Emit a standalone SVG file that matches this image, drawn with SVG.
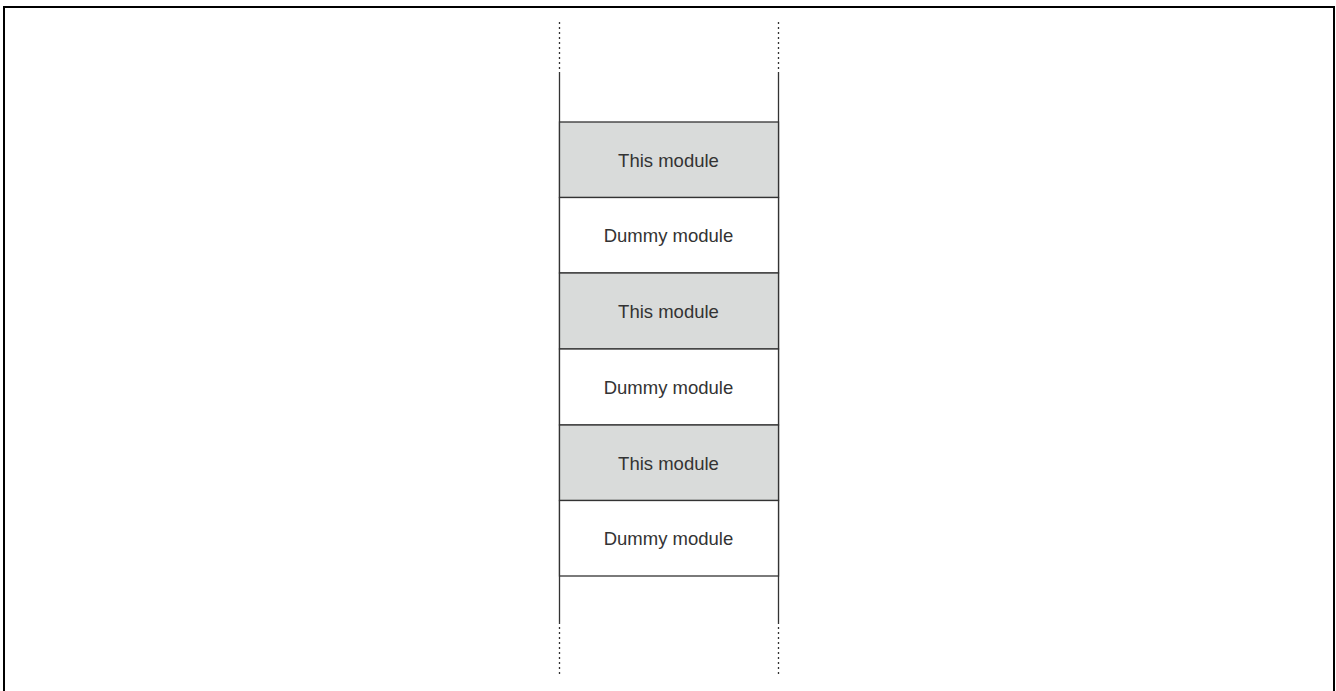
<svg xmlns="http://www.w3.org/2000/svg" width="1336" height="691" viewBox="0 0 1336 691">
<style>
.frame{stroke:#000;stroke-width:2;fill:none}
.side{stroke:#333;stroke-width:1.3;fill:none}
.dot{stroke:#333;stroke-width:1.3;stroke-dasharray:2,3;fill:none}
.gray{fill:#d9dbda;stroke:#333;stroke-width:1.3}
.white{fill:#fff;stroke:#333;stroke-width:1.3}
text{font-family:"Liberation Sans",Arial,sans-serif;font-size:18.5px;fill:#333;text-anchor:middle;dominant-baseline:central}
</style>
<rect width="1336" height="691" fill="#fff"/>
<path class="frame" d="M4,691 V7 H1334 V691"/>
<g id="rails">
<path class="dot" d="M559.5,22 V72 M778.5,22 V72 M559.5,627 V677 M778.5,627 V677"/>
<path class="side" d="M559.5,72 V624 M778.5,72 V624"/>
</g>
<g id="m1"><rect class="gray" x="559.5" y="122" width="219" height="75.5"/><text x="668.5" y="160">This module</text></g>
<g id="m2"><rect class="white" x="559.5" y="197.5" width="219" height="75.5"/><text x="668.5" y="235.5">Dummy module</text></g>
<g id="m3"><rect class="gray" x="559.5" y="273" width="219" height="76"/><text x="668.5" y="311">This module</text></g>
<g id="m4"><rect class="white" x="559.5" y="349" width="219" height="76"/><text x="668.5" y="387">Dummy module</text></g>
<g id="m5"><rect class="gray" x="559.5" y="425" width="219" height="75.5"/><text x="668.5" y="463">This module</text></g>
<g id="m6"><rect class="white" x="559.5" y="500.5" width="219" height="75.5"/><text x="668.5" y="538.5">Dummy module</text></g>
</svg>
